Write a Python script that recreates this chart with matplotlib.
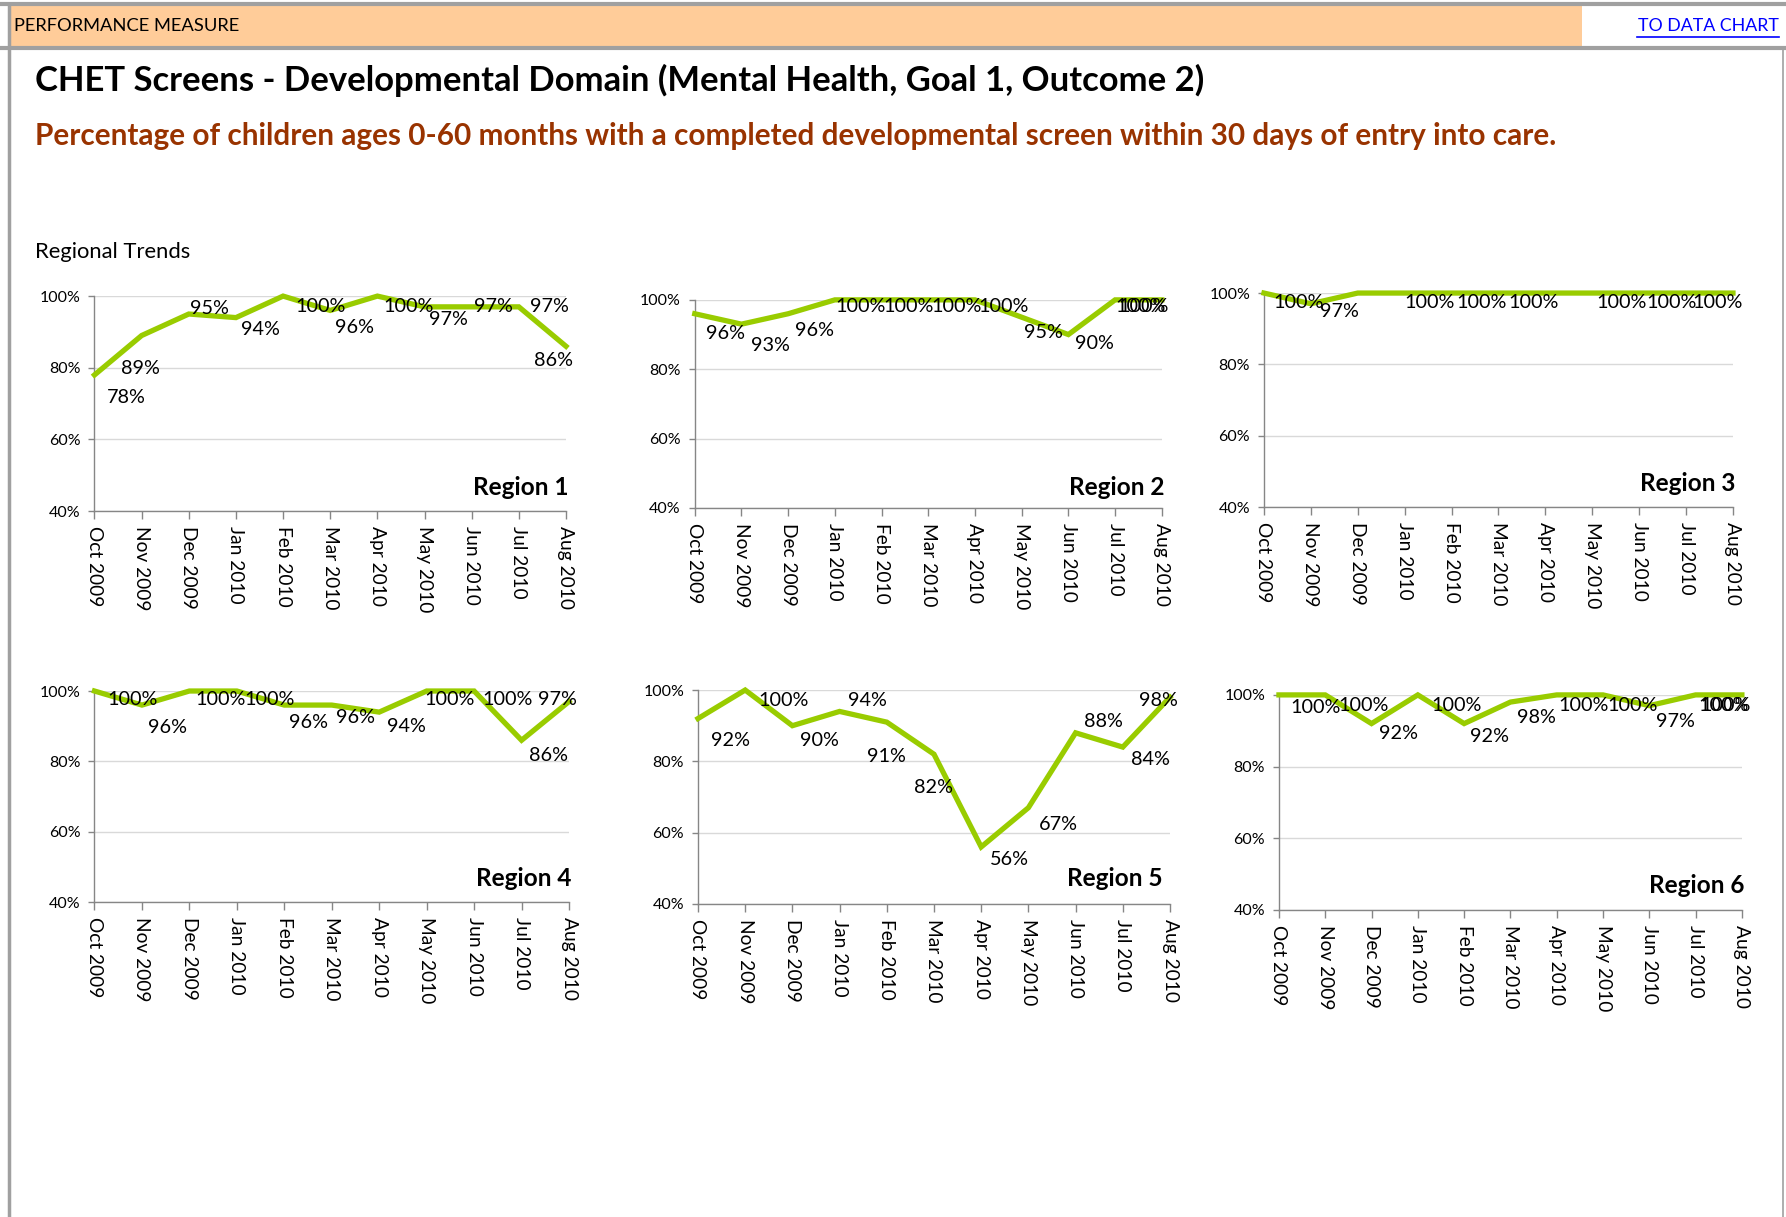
import matplotlib
matplotlib.use('Agg')
import matplotlib.pyplot as plt
from matplotlib.patches import Rectangle
from matplotlib.lines import Line2D

plt.rcParams['font.family'] = ['Lato', 'DejaVu Sans']

months = ['Oct 2009', 'Nov 2009', 'Dec 2009', 'Jan 2010', 'Feb 2010', 'Mar 2010',
          'Apr 2010', 'May 2010', 'Jun 2010', 'Jul 2010', 'Aug 2010']

region1 = [78, 89, 95, 94, 100, 96, 100, 97, 97, 97, 86]
region2 = [96, 93, 96, 100, 100, 100, 100, 95, 90, 100, 100]
region3 = [100, 97, 100, 100, 100, 100, 100, 100, 100, 100, 100]
region4 = [100, 96, 100, 100, 96, 96, 94, 100, 100, 86, 97]
region5 = [92, 100, 90, 94, 91, 82, 56, 67, 88, 84, 98]
region6 = [100, 100, 92, 100, 92, 98, 100, 100, 97, 100, 100]

region_names = ['Region 1', 'Region 2', 'Region 3', 'Region 4', 'Region 5', 'Region 6']
series = [region1, region2, region3, region4, region5, region6]

# where excel dropped the data labels (offsets in category / percent units, None = hidden)
label_dx = [
    [0.67, -0.02, 0.44, 0.51, 0.79, 0.52, 0.67, 0.5, 0.46, 0.65, -0.26],
    [0.65, 0.63, 0.56, 0.55, 0.58, 0.6, 0.62, 0.46, 0.56, 0.55, -0.38],
    [0.73, 0.61, None, 0.54, 0.64, 0.74, None, 0.62, 0.69, 0.67, None],
    [0.8, 0.53, 0.66, 0.69, 0.5, 0.5, 0.57, 0.48, 0.7, 0.57, -0.24],
    [0.68, 0.81, 0.57, 0.58, 0.0, 0.0, 0.59, 0.63, 0.6, 0.59, -0.24],
    [0.8, 0.83, 0.58, 0.84, 0.54, 0.57, 0.58, 0.64, 0.57, 0.6, -0.35],
]
label_dy = [
    [-6.4, -9.3, 1.5, -3.3, -3, -4.8, -3, -3.5, 0, 0, -4.1],
    [-5.6, -6.2, -4.9, -1.8, -1.8, -1.8, -1.8, -4.3, -2.7, -1.8, -1.8],
    [-2.6, -2.3, 0, -2.6, -2.6, -2.6, 0, -2.6, -2.6, -2.6, 0],
    [-2.4, -6.3, -2.4, -2.4, -4.9, -3.5, -4.1, -2.4, -2.4, -4.2, 0.6],
    [-6.2, -3, -4.2, 3, -9.5, -9.3, -3.4, -4.8, 3.1, -3.4, -1],
    [-3.5, -2.9, -2.7, -2.9, -3.5, -4.3, -2.9, -2.9, -4.3, -2.9, -2.9],
]

# axes rectangles [left, bottom, width, height] in figure fractions
boxes = [
    [0.0529, 0.580, 0.264, 0.1767],
    [0.389, 0.5826, 0.2615, 0.171],
    [0.7077, 0.5834, 0.2626, 0.1758],
    [0.0529, 0.2588, 0.2657, 0.1734],
    [0.3908, 0.2572, 0.2643, 0.1758],
    [0.7161, 0.2523, 0.2592, 0.1767],
]
name_pos = [(1.005, 0.11), (1.005, 0.10), (1.005, 0.11), (1.005, 0.11), (0.985, 0.12), (1.005, 0.116)]

fig = plt.figure(figsize=(17.86, 12.17), dpi=100)

# page header
fig.patches.append(Rectangle((0.005, 0.961), 0.881, 0.034, transform=fig.transFigure,
                             facecolor='#FFCC99', edgecolor='none'))
grey = '#A0A0A0'
fig.add_artist(Line2D([0, 1], [0.9965, 0.9965], color=grey, lw=3))
fig.add_artist(Line2D([0, 1], [0.9605, 0.9605], color=grey, lw=3))
fig.add_artist(Line2D([0.005, 0.005], [0, 0.997], color=grey, lw=2.5))
fig.add_artist(Line2D([0.9985, 0.9985], [0, 0.96], color=grey, lw=1.2))
fig.text(0.008, 0.979, 'PERFORMANCE MEASURE', fontsize=13.2, va='center', ha='left')
fig.text(0.996, 0.979, 'TO DATA CHART', fontsize=12.8, va='center', ha='right',
         color='#0000FF')
fig.add_artist(Line2D([0.9165, 0.996], [0.970, 0.970], color='#0000FF', lw=1.2))

fig.text(0.0195, 0.934, 'CHET Screens - Developmental Domain (Mental Health, Goal 1, Outcome 2)',
         fontsize=24.9, fontweight='bold', va='center', ha='left')
fig.text(0.0195, 0.888,
         'Percentage of children ages 0-60 months with a completed developmental screen within 30 days of entry into care.',
         fontsize=21.4, fontweight='bold', va='center', ha='left', color='#993300')
fig.text(0.0195, 0.793, 'Regional Trends', fontsize=15.8, va='center', ha='left')

x = list(range(len(months)))
for i, vals in enumerate(series):
    ax = fig.add_axes(boxes[i])
    ax.plot(x, vals, color='#99CC00', lw=3.8, solid_joinstyle='miter', clip_on=False, zorder=3)
    ax.set_xlim(0, len(months) - 1)
    ax.set_ylim(40, 100)
    ax.set_yticks([40, 60, 80, 100])
    ax.set_yticklabels([f'{t}%' for t in [40, 60, 80, 100]], fontsize=11.5)
    ax.set_xticks(x)
    ax.set_xticklabels(months, rotation=270, fontsize=13.8)
    ax.tick_params(axis='x', length=6, width=1, color='#868686', pad=5)
    ax.tick_params(axis='y', length=4, width=1, color='#868686', pad=6)
    ax.grid(axis='y', color='#D9D9D9', lw=1)
    ax.set_axisbelow(True)
    for s in ['top', 'right']:
        ax.spines[s].set_visible(False)
    for s in ['left', 'bottom']:
        ax.spines[s].set_color('#868686')
        ax.spines[s].set_linewidth(1)
    for j, v in enumerate(vals):
        if label_dx[i][j] is None:
            continue
        ax.text(j + label_dx[i][j], v + label_dy[i][j], f'{v}%', fontsize=14.3,
                ha='center', va='center', clip_on=False, zorder=4)
    ax.text(name_pos[i][0], name_pos[i][1], region_names[i], transform=ax.transAxes,
            fontsize=17.6, fontweight='bold', ha='right', va='center')

fig.savefig('out.png', dpi=100)
